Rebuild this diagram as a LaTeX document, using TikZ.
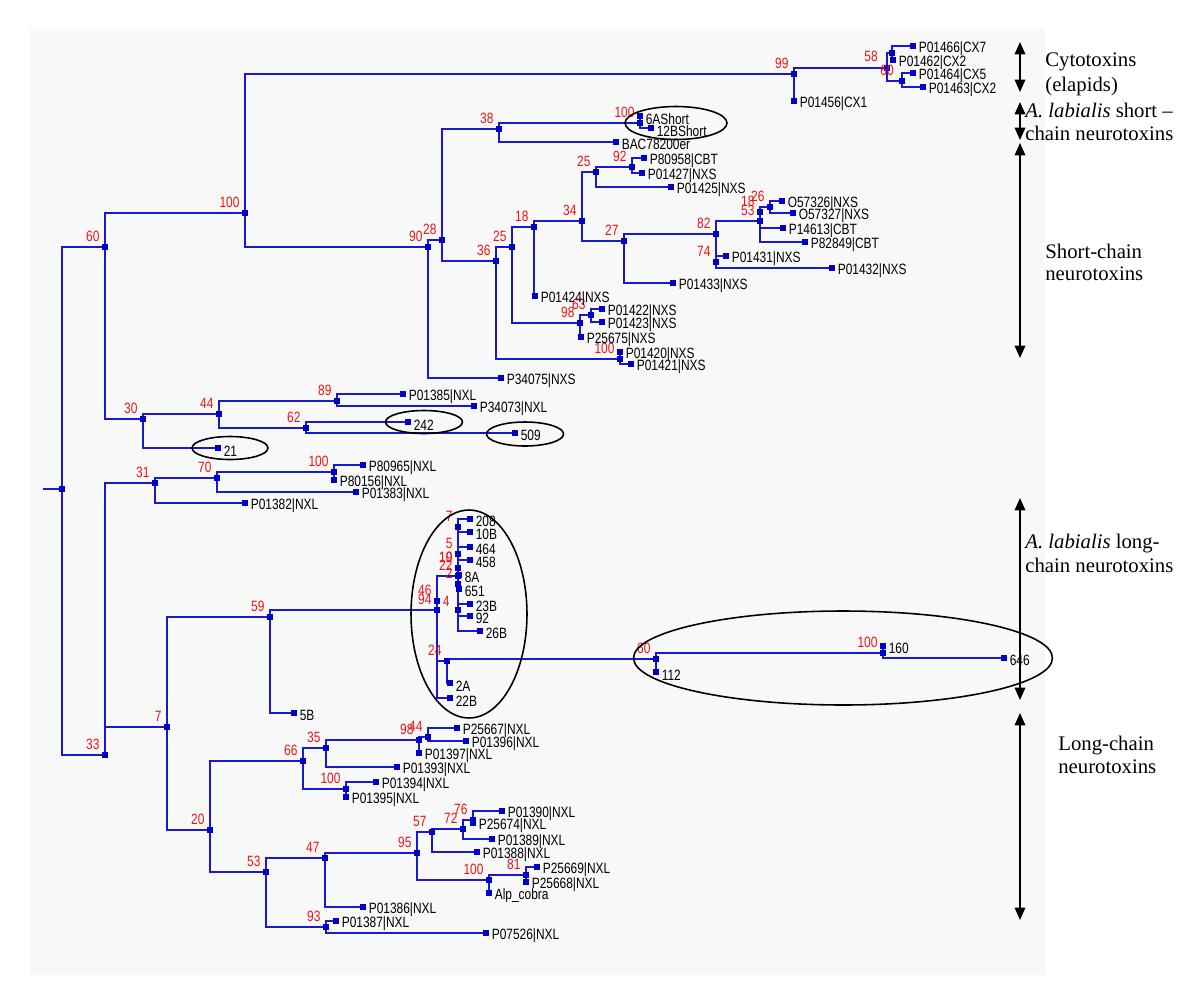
\documentclass[tikz,border=0pt]{standalone}
\usepackage{fontspec}
\usepackage{tikz}
\usetikzlibrary{arrows.meta,backgrounds,shapes.geometric}

\newfontfamily\treefont[FakeStretch=0.8]{Liberation Sans}
\newfontfamily\notefont[Ligatures=TeX]{Liberation Serif}
\definecolor{treeblue}{RGB}{25,25,205}
\definecolor{boxblue}{RGB}{0,0,200}
\definecolor{bsred}{RGB}{235,20,20}
\definecolor{panel}{RGB}{248,248,248}

\begin{document}
\begin{tikzpicture}[x=0.02cm,y=-0.02cm,label distance=0.5pt,
  sq/.style={rectangle,fill=boxblue,inner sep=0pt,minimum size=3.8pt},
  bs/.style={text=bsred,font=\treefont\fontsize{8.5}{9}\selectfont,inner sep=0.5pt},
  lf/.style={font=\treefont\fontsize{8.5}{9}\selectfont,inner sep=0.5pt,yshift=-1.6pt},
  br/.style={every edge/.style={draw=treeblue,line width=0.8pt,to path={|- (\tikztotarget)}}},
  ring/.style={ellipse,draw,line width=0.9pt,inner sep=0pt},
  note/.style={font=\notefont\fontsize{11.8}{13.5}\selectfont,inner sep=0pt,anchor=base west},
  span/.style={draw,line width=0.8pt,{Triangle[width=6pt,length=7pt]}-{Triangle[width=6pt,length=7pt]}}]
  \useasboundingbox (0,0) rectangle (1200,994);

  % internal nodes, upper half
  \coordinate (stub) at (43,489);
  \node[sq] (root) at (62,489) {};
  \node[sq,label={[bs]above left:60}] (n60) at (105,247) {};
  \node[sq,label={[bs]above left:100}] (n100a) at (245,213) {};
  \node[sq,label={[bs]above left:99}] (n99) at (794,74) {};
  \node[sq] (n60c) at (887,68) {};
  \node[sq] (n58) at (892,53) {};
  \node[sq] (n3c) at (902,81) {};
  \node[sq,label={[bs]above left:90}] (n90) at (428,247) {};
  \node[sq,label={[bs]above left:28}] (n28) at (442,240) {};
  \node[sq,label={[bs]above left:38}] (n38) at (499,129) {};
  \node[sq,label={[bs]above left:100}] (n100b) at (640,123) {};
  \node[sq,label={[bs]above left:36}] (n36) at (496,261) {};
  \node[sq,label={[bs]above left:25}] (n25b) at (512,247) {};
  \node[sq,label={[bs]above left:18}] (n18) at (534,227) {};
  \node[sq,label={[bs]above left:34}] (n34) at (582,221) {};
  \node[sq,label={[bs]above left:25}] (n25a) at (596,172) {};
  \node[sq,label={[bs]above left:92}] (n92) at (632,167) {};
  \node[sq,label={[bs]above left:27}] (n27) at (624,241) {};
  \node[sq,label={[bs]above left:82}] (n82) at (716,234) {};
  \node[sq,label={[bs]above left:74}] (n74) at (716,262) {};
  \node[sq,label={[bs]above left:53}] (n53) at (760,221) {};
  \node[sq,label={[bs]above left:18}] (n18b) at (760,212) {};
  \node[sq,label={[bs]above left:26}] (n26) at (770,207) {};
  \node[sq,label={[bs]above left:98}] (n98) at (580,323) {};
  \node[sq,label={[bs]above left:63}] (n63) at (591,315) {};
  \node[sq,label={[bs]above left:100}] (n100c) at (620,359) {};
  \node[sq,label={[bs]above left:30}] (n30) at (143,419) {};
  \node[sq,label={[bs]above left:44}] (n44) at (219,414) {};
  \node[sq,label={[bs]above left:89}] (n89) at (337,401) {};
  \node[sq,label={[bs]above left:62}] (n62) at (306,428) {};

  % internal nodes, lower half
  \node[sq,label={[bs]above left:33}] (n33) at (105,755) {};
  \node[sq,label={[bs]above left:31}] (n31) at (155,483) {};
  \node[sq,label={[bs]above left:70}] (n70) at (217,478) {};
  \node[sq,label={[bs]above left:100}] (n100d) at (334,472) {};
  \node[sq,label={[bs]above left:7}] (n7) at (167,727) {};
  \node[sq,label={[bs]above left:59}] (n59) at (270,617) {};
  \node[sq,label={[bs]above left:94}] (n94) at (437,610) {};
  \node[sq,label={[bs]above left:46},label={[bs]right:4}] (n46) at (437,601) {};
  \node[sq,label={[bs]above left:7}] (c7) at (458,527) {};
  \node[sq,label={[bs]above left:5}] (c5) at (458,554) {};
  \node[sq,label={[bs]above left:10}] (c10) at (458,568) {};
  \node[sq,label={[bs]above left:19}] (c19) at (458,568) {};
  \node[sq,label={[bs]above left:22}] (c22) at (458,576) {};
  \node[sq,label={[bs]above left:2}] (c2) at (458,584) {};
  \node[sq] (cB) at (458,610) {};
  \node[sq,label={[bs]above left:24}] (n24) at (447,661) {};
  \node[sq,label={[bs]above left:60}] (n60d) at (656,659) {};
  \node[sq,label={[bs]above left:100}] (n100e) at (883,653) {};
  \node[sq,label={[bs]above left:20}] (n20) at (210,830) {};
  \node[sq,label={[bs]above left:66}] (n66) at (303,761) {};
  \node[sq,label={[bs]above left:35}] (n35) at (326,748) {};
  \node[sq,label={[bs]above left:98}] (n98b) at (419,740) {};
  \node[sq,label={[bs]above left:44}] (n44b) at (428,737) {};
  \node[sq,label={[bs]above left:100}] (n100f) at (346,789) {};
  \node[sq,label={[bs]above left:53}] (n53b) at (266,872) {};
  \node[sq,label={[bs]above left:47}] (n47) at (325,858) {};
  \node[sq,label={[bs]above left:95}] (n95) at (417,853) {};
  \node[sq,label={[bs]above left:57}] (n57) at (432,832) {};
  \node[sq,label={[bs]above left:72}] (n72) at (463,829) {};
  \node[sq,label={[bs]above left:76}] (n76) at (473,820) {};
  \node[sq,label={[bs]above left:100}] (n100g) at (489,880) {};
  \node[sq,label={[bs]above left:81}] (n81) at (526,875) {};
  \node[sq,label={[bs]above left:93}] (n93) at (326,927) {};

  % leaves
  \node[sq,label={[lf]right:P01466|CX7}] (P01466) at (913,46) {};
  \node[sq,label={[lf]right:P01462|CX2}] (P01462) at (893,60) {};
  \node[sq,label={[lf]right:P01464|CX5}] (P01464) at (913,73) {};
  \node[sq,label={[lf]right:P01463|CX2}] (P01463) at (923,87) {};
  \node[sq,label={[lf]right:P01456|CX1}] (P01456) at (794,101) {};
  \node[sq,label={[lf]right:6AShort}] (t6A) at (640,116) {};
  \node[sq,label={[lf]right:12BShort}] (t12B) at (651,128) {};
  \node[sq,label={[lf]right:BAC78200er}] (BAC) at (616,142) {};
  \node[sq,label={[lf]right:P80958|CBT}] (P80958) at (644,158) {};
  \node[sq,label={[lf]right:P01427|NXS}] (P01427) at (642,173) {};
  \node[sq,label={[lf]right:P01425|NXS}] (P01425) at (671,187) {};
  \node[sq,label={[lf]right:O57326|NXS}] (O57326) at (782,201) {};
  \node[sq,label={[lf]right:O57327|NXS}] (O57327) at (793,213) {};
  \node[sq,label={[lf]right:P14613|CBT}] (P14613) at (783,228) {};
  \node[sq,label={[lf]right:P82849|CBT}] (P82849) at (805,242) {};
  \node[sq,label={[lf]right:P01431|NXS}] (P01431) at (726,256) {};
  \node[sq,label={[lf]right:P01432|NXS}] (P01432) at (832,268) {};
  \node[sq,label={[lf]right:P01433|NXS}] (P01433) at (673,283) {};
  \node[sq,label={[lf]right:P01424|NXS}] (P01424) at (535,296) {};
  \node[sq,label={[lf]right:P01422|NXS}] (P01422) at (602,309) {};
  \node[sq,label={[lf]right:P01423|NXS}] (P01423) at (602,322) {};
  \node[sq,label={[lf]right:P25675|NXS}] (P25675) at (581,337) {};
  \node[sq,label={[lf]right:P01420|NXS}] (P01420) at (620,352) {};
  \node[sq,label={[lf]right:P01421|NXS}] (P01421) at (631,364) {};
  \node[sq,label={[lf]right:P34075|NXS}] (P34075) at (501,378) {};
  \node[sq,label={[lf]right:P01385|NXL}] (P01385) at (403,394) {};
  \node[sq,label={[lf]right:P34073|NXL}] (P34073) at (474,406) {};
  \node[sq,label={[lf]right:242}] (t242) at (408,422) {};
  \node[sq,label={[lf]right:509}] (t509) at (515,433) {};
  \node[sq,label={[lf]right:21}] (t21) at (218,448) {};
  \node[sq,label={[lf]right:P80965|NXL}] (P80965) at (363,465) {};
  \node[sq,label={[lf]right:P80156|NXL}] (P80156) at (334,480) {};
  \node[sq,label={[lf]right:P01383|NXL}] (P01383) at (356,492) {};
  \node[sq,label={[lf]right:P01382|NXL}] (P01382) at (245,503) {};
  \node[sq,label={[lf]right:208}] (t208) at (470,519) {};
  \node[sq,label={[lf]right:10B}] (t10B) at (470,532) {};
  \node[sq,label={[lf]right:464}] (t464) at (470,547) {};
  \node[sq,label={[lf]right:458}] (t458) at (470,560) {};
  \node[sq,label={[lf]right:8A}] (t8A) at (459,575) {};
  \node[sq,label={[lf]right:651}] (t651) at (459,589) {};
  \node[sq,label={[lf]right:23B}] (t23B) at (470,604) {};
  \node[sq,label={[lf]right:92}] (t92) at (470,616) {};
  \node[sq,label={[lf]right:26B}] (t26B) at (480,631) {};
  \node[sq,label={[lf]right:2A}] (t2A) at (450,683) {};
  \node[sq,label={[lf]right:22B}] (t22B) at (450,698) {};
  \node[sq,label={[lf]right:112}] (t112) at (656,672) {};
  \node[sq,label={[lf]right:160}] (t160) at (883,646) {};
  \node[sq,label={[lf]right:646}] (t646) at (1004,658) {};
  \node[sq,label={[lf]right:5B}] (t5B) at (294,713) {};
  \node[sq,label={[lf]right:P25667|NXL}] (P25667) at (457,728) {};
  \node[sq,label={[lf]right:P01396|NXL}] (P01396) at (466,741) {};
  \node[sq,label={[lf]right:P01397|NXL}] (P01397) at (419,753) {};
  \node[sq,label={[lf]right:P01393|NXL}] (P01393) at (397,767) {};
  \node[sq,label={[lf]right:P01394|NXL}] (P01394) at (376,782) {};
  \node[sq,label={[lf]right:P01395|NXL}] (P01395) at (346,797) {};
  \node[sq,label={[lf]right:P01390|NXL}] (P01390) at (502,811) {};
  \node[sq,label={[lf]right:P25674|NXL}] (P25674) at (473,823) {};
  \node[sq,label={[lf]right:P01389|NXL}] (P01389) at (492,839) {};
  \node[sq,label={[lf]right:P01388|NXL}] (P01388) at (477,852) {};
  \node[sq,label={[lf]right:P25669|NXL}] (P25669) at (537,867) {};
  \node[sq,label={[lf]right:P25668|NXL}] (P25668) at (526,882) {};
  \node[sq,label={[lf]right:Alp\_cobra}] (Alp) at (489,893) {};
  \node[sq,label={[lf]right:P01386|NXL}] (P01386) at (363,907) {};
  \node[sq,label={[lf]right:P01387|NXL}] (P01387) at (336,921) {};
  \node[sq,label={[lf]right:P07526|NXL}] (P07526) at (486,933) {};

  % crowded support values
  \node[bs] (l58) at (871,56) {58};
  \node[bs] (l60c) at (887,70) {60};

  \begin{scope}[on background layer]
    \fill[panel] (30,28) rectangle (1045,975);
    \path[br]
      (stub) edge (root.center)
      (root.center) edge (n60.center) edge (n33.center)
      (n60.center) edge (n100a.center) edge (n30.center)
      (n100a.center) edge (n99.center) edge (n90.center)
      (n99.center) edge (n60c.center) edge (P01456.center)
      (n60c.center) edge (n58.center) edge (n3c.center)
      (n58.center) edge (P01466.center) edge (P01462.center)
      (n3c.center) edge (P01464.center) edge (P01463.center)
      (n90.center) edge (n28.center) edge (P34075.center)
      (n28.center) edge (n38.center) edge (n36.center)
      (n38.center) edge (n100b.center) edge (BAC.center)
      (n100b.center) edge (t6A.center) edge (t12B.center)
      (n36.center) edge (n25b.center) edge (n100c.center)
      (n25b.center) edge (n18.center) edge (n98.center)
      (n18.center) edge (n34.center) edge (P01424.center)
      (n34.center) edge (n25a.center) edge (n27.center)
      (n25a.center) edge (n92.center) edge (P01425.center)
      (n92.center) edge (P80958.center) edge (P01427.center)
      (n27.center) edge (n82.center) edge (P01433.center)
      (n82.center) edge (n53.center) edge (n74.center)
      (n53.center) edge (n18b.center) edge (P82849.center)
      (n18b.center) edge (n26.center) edge (P14613.center)
      (n26.center) edge (O57326.center) edge (O57327.center)
      (n74.center) edge (P01431.center) edge (P01432.center)
      (n98.center) edge (n63.center) edge (P25675.center)
      (n63.center) edge (P01422.center) edge (P01423.center)
      (n100c.center) edge (P01420.center) edge (P01421.center)
      (n30.center) edge (n44.center) edge (t21.center)
      (n44.center) edge (n89.center) edge (n62.center)
      (n89.center) edge (P01385.center) edge (P34073.center)
      (n62.center) edge (t242.center) edge (t509.center);
    \path[br]
      (n33.center) edge (n31.center) edge (n7.center)
      (n31.center) edge (n70.center) edge (P01382.center)
      (n70.center) edge (n100d.center) edge (P01383.center)
      (n100d.center) edge (P80965.center) edge (P80156.center)
      (n7.center) edge (n59.center) edge (n20.center)
      (n59.center) edge (n94.center) edge (t5B.center)
      (n94.center) edge (n46.center) edge (t22B.center)
      (n46.center) edge (c22.center) edge (n24.center)
      (c22.center) edge (c19.center) edge (c2.center)
      (c19.center) edge (c10.center)
      (c10.center) edge (c5.center) edge (t8A.center)
      (c5.center) edge (c7.center) edge (t464.center) edge (t458.center)
      (c7.center) edge (t208.center) edge (t10B.center)
      (c2.center) edge (t651.center) edge (cB.center) edge (t26B.center)
      (cB.center) edge (t23B.center) edge (t92.center)
      (n24.center) edge (n60d.center) edge (t2A.center)
      (n60d.center) edge (n100e.center) edge (t112.center)
      (n100e.center) edge (t160.center) edge (t646.center)
      (n20.center) edge (n66.center) edge (n53b.center)
      (n66.center) edge (n35.center) edge (n100f.center)
      (n35.center) edge (n98b.center) edge (P01393.center)
      (n98b.center) edge (n44b.center) edge (P01397.center)
      (n44b.center) edge (P25667.center) edge (P01396.center)
      (n100f.center) edge (P01394.center) edge (P01395.center)
      (n53b.center) edge (n47.center) edge (n93.center)
      (n47.center) edge (n95.center) edge (P01386.center)
      (n95.center) edge (n57.center) edge (n100g.center)
      (n57.center) edge (n72.center) edge (P01388.center)
      (n72.center) edge (n76.center) edge (P01389.center)
      (n76.center) edge (P01390.center) edge (P25674.center)
      (n100g.center) edge (n81.center) edge (Alp.center)
      (n81.center) edge (P25669.center) edge (P25668.center)
      (n93.center) edge (P01387.center) edge (P07526.center);
  \end{scope}

  % circled groups
  \node[ring,minimum width=2.04cm,minimum height=0.66cm] (e6A) at (676,123) {};
  \node[ring,minimum width=1.52cm,minimum height=0.46cm] (e21) at (230,448) {};
  \node[ring,minimum width=1.54cm,minimum height=0.46cm] (e242) at (424,422) {};
  \node[ring,minimum width=1.54cm,minimum height=0.48cm] (e509) at (525,434) {};
  \node[ring,minimum width=2.32cm,minimum height=4.16cm] (elong) at (469,614) {};
  \node[ring,minimum width=8.38cm,minimum height=1.88cm] (e160) at (843,658) {};

  % group spans
  \coordinate (s1a) at (1020,42);  \coordinate (s1b) at (1020,92);
  \coordinate (s2a) at (1020,102); \coordinate (s2b) at (1020,140);
  \coordinate (s3a) at (1020,143); \coordinate (s3b) at (1020,358);
  \coordinate (s4a) at (1020,498); \coordinate (s4b) at (1020,700);
  \coordinate (s5a) at (1020,713); \coordinate (s5b) at (1020,920);
  \draw[span] (s1a) -- (s1b);
  \draw[span] (s2a) -- (s2b);
  \draw[span] (s3a) -- (s3b);
  \draw[span] (s4a) -- (s4b);
  \draw[span] (s5a) -- (s5b);

  \node[note] (cyto1) at (1045,66) {Cytotoxins};
  \node[note] (cyto2) at (1045,91) {(elapids)};
  \node[note] (als1) at (1025,117) {\textit{A. labialis} short \textendash};
  \node[note] (als2) at (1025,140) {chain neurotoxins};
  \node[note] (sc1) at (1045,258) {Short-chain};
  \node[note] (sc2) at (1045,280) {neurotoxins};
  \node[note] (all1) at (1025,548) {\textit{A. labialis} long-};
  \node[note] (all2) at (1025,572) {chain neurotoxins};
  \node[note] (lc1) at (1058,750) {Long-chain};
  \node[note] (lc2) at (1058,773) {neurotoxins};
\end{tikzpicture}
\end{document}
